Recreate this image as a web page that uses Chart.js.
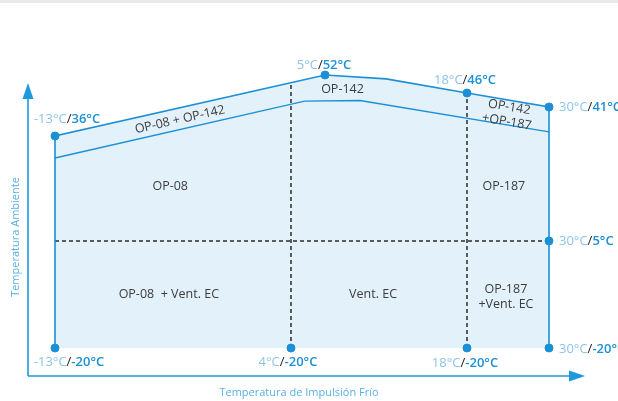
<!DOCTYPE html>
<html>
<head>
<meta charset="utf-8">
<script src="https://cdn.jsdelivr.net/npm/chart.js@4"></script>
<style>
  body { margin: 0; background: #fff; }
  #wrap { position: relative; width: 618px; height: 401px; }
  #strip { position: absolute; left: 0; top: 0; width: 618px; height: 3px; background: #e9eaee; }
</style>
</head>
<body>
<div id="wrap"><canvas id="envelope"></canvas><div id="strip"></div></div>
<script>
// operating envelope, °C (x = impulsión frío, y = ambiente)
const upperX = [-13, 5, 10.6, 18, 30];
const upperY = [36, 52, 50.7, 46, 41];
const lowerX = [-13, 4.4, 8.2, 30];
const lowerY = [29.5, 43.1, 43.3, 36.7];
const splitX = [4, 18];
const splitXTop = [49.4, 46];
const splitY = 5;
const pointX = [-13, 5, 18, 30, 30, 30, -13, 4, 18];
const pointY = [36, 52, 46, 41, 5, -20, -20, -20, -20];
const regionText = [["OP-08 + OP-142"], ["OP-142"], ["OP-142", "+OP-187"], ["OP-08"], ["OP-187"],
  ["OP-08  + Vent. EC"], ["Vent. EC"], ["OP-187", "+Vent. EC"]];
const regionX = [-4.0, 6.6, 24.0, -4.7, 23.4, -4.8, 9.4, 23.7];
const regionY = [38.8, 47.3, 39.7, 21.2, 21.2, -7.6, -7.6, -8.0];

const BLUE = "#1b90d6";
const xMin = -13, xMax = 30, yMin = -20, yMax = 52;

// the drawing is not to scale: each axis is linear between these breaks
const axisBreaks = {
  x: [[-13, 0], [4, 0.4777], [5, 0.5466], [18, 0.834], [30, 1]],
  y: [[-20, 0], [5, 0.392], [36, 0.7766], [41, 0.8828], [46, 0.934], [52, 1]],
};

class BrokenScale extends Chart.LinearScale {
  getPixelForValue(value) {
    const k = axisBreaks[this.axis];
    let f = value <= k[0][0] ? k[0][1] : k[k.length - 1][1];
    for (let i = 1; i < k.length; i++) {
      if (value >= k[i - 1][0] && value <= k[i][0]) {
        f = k[i - 1][1] + (k[i][1] - k[i - 1][1]) * (value - k[i - 1][0]) / (k[i][0] - k[i - 1][0]);
        break;
      }
    }
    return this.getPixelForDecimal(f);
  }
  getValueForPixel(pixel) {
    const k = axisBreaks[this.axis];
    const f = this.getDecimalForPixel(pixel);
    for (let i = 1; i < k.length; i++) {
      if (f <= k[i][1]) return k[i - 1][0] + (k[i][0] - k[i - 1][0]) * (f - k[i - 1][1]) / (k[i][1] - k[i - 1][1]);
    }
    return k[k.length - 1][0];
  }
}
BrokenScale.id = "broken";
BrokenScale.defaults = Chart.LinearScale.defaults;
Chart.register(BrokenScale);

const pts = (xs, ys) => xs.map((x, i) => ({ x, y: ys[i] }));

const outline = [{ x: xMin, y: yMin }, ...pts(upperX, upperY), { x: xMax, y: yMin }, { x: xMin, y: yMin }];
const dashed = [
  ...splitX.map((x, i) => [{ x, y: yMin }, { x, y: splitXTop[i] }]),
  [{ x: xMin, y: splitY }, { x: xMax, y: splitY }],
];

// labels next to the corner points
const labelPlace = ["above", "above", "above", "right", "right", "right", "below", "below", "below"];
const labelShift = [12, -1, -2, 0, 0, 0, 14, -3, -2];
const labelLift = [-17, -10, -13, 0, 0, 1, 14, 14, 15];
const regionAngle = [-12.7, 0, 9.5, 0, 0, 0, 0, 0];

const fmt = (v) => (v < 0 ? "-" : "") + Math.abs(v) + "°C";

const decor = {
  id: "decor",
  afterDraw(chart) {
    const { ctx, chartArea: a, scales } = chart;
    const sx = scales.x, sy = scales.y;
    ctx.save();
    // axes with arrows
    const ax = a.left - 27, ay = a.bottom + 28;
    ctx.strokeStyle = "#1d9ade";
    ctx.fillStyle = "#1d9ade";
    ctx.lineWidth = 1.6;
    ctx.beginPath();
    ctx.moveTo(ax, ay);
    ctx.lineTo(ax, 98);
    ctx.moveTo(ax, ay);
    ctx.lineTo(570, ay);
    ctx.stroke();
    ctx.beginPath();
    ctx.moveTo(ax - 5.5, 99); ctx.lineTo(ax + 5.5, 99); ctx.lineTo(ax, 83); ctx.closePath();
    ctx.moveTo(569, ay - 5.5); ctx.lineTo(569, ay + 5.5); ctx.lineTo(585, ay); ctx.closePath();
    ctx.fill();

    // axis titles
    ctx.fillStyle = "#5aafe3";
    ctx.font = "11px 'Open Sans'";
    ctx.textAlign = "center";
    ctx.textBaseline = "middle";
    ctx.fillText("Temperatura de Impulsión Frío", 299, 393);
    ctx.save();
    ctx.translate(16, 237);
    ctx.rotate(-Math.PI / 2);
    ctx.fillText("Temperatura Ambiente", 0, 0);
    ctx.restore();

    // region names
    ctx.fillStyle = "#3c3c3c";
    ctx.font = "12.5px 'Open Sans'";
    regionText.forEach((lines, i) => {
      ctx.save();
      ctx.translate(sx.getPixelForValue(regionX[i]), sy.getPixelForValue(regionY[i]));
      ctx.rotate(regionAngle[i] * Math.PI / 180);
      lines.forEach((t, j) => ctx.fillText(t, 0, (j - (lines.length - 1) / 2) * 15));
      ctx.restore();
    });

    // point labels: light x part, dark slash, blue y part
    ctx.textAlign = "left";
    pointX.forEach((x, i) => {
      const parts = [
        [fmt(x), "#8cc4e9", "400"],
        ["/", "#222", "400"],
        [fmt(pointY[i]), BLUE, "600"],
      ];
      let w = 0;
      parts.forEach((p) => { ctx.font = p[2] + " 13px 'Open Sans'"; p.push(ctx.measureText(p[0]).width); w += p[3]; });
      const px = sx.getPixelForValue(x), py = sy.getPixelForValue(pointY[i]);
      let lx = labelPlace[i] === "right" ? px + 10 : px - w / 2 + labelShift[i];
      const ly = py + labelLift[i];
      parts.forEach((p) => {
        ctx.font = p[2] + " 13px 'Open Sans'";
        ctx.fillStyle = p[1];
        ctx.fillText(p[0], lx, ly);
        lx += p[3];
      });
    });
    ctx.restore();
  },
};

new Chart(document.getElementById("envelope"), {
  type: "line",
  data: {
    datasets: [
      {
        data: pts(pointX, pointY),
        showLine: false,
        pointRadius: 4,
        pointBackgroundColor: BLUE,
        pointBorderColor: BLUE,
        order: 1,
      },
      {
        data: outline,
        borderColor: BLUE,
        borderWidth: 1.6,
        pointRadius: 0,
        fill: false,
        order: 2,
      },
      {
        data: pts(lowerX, lowerY),
        borderColor: BLUE,
        borderWidth: 1.4,
        pointRadius: 0,
        fill: false,
        order: 3,
      },
      ...dashed.map((d) => ({
        data: d,
        borderColor: "#2b2b2b",
        borderWidth: 1.5,
        borderDash: [4, 3],
        pointRadius: 0,
        fill: false,
        order: 4,
      })),
      {
        data: pts(upperX, upperY),
        borderWidth: 0,
        pointRadius: 0,
        backgroundColor: "#e3f1fb",
        fill: { value: yMin },
        order: 6,
      },
    ],
  },
  options: {
    responsive: true,
    maintainAspectRatio: false,
    animation: false,
    parsing: false,
    layout: { padding: { left: 55, right: 69, top: 75, bottom: 53 } },
    datasets: { line: { clip: false, tension: 0 } },
    scales: {
      x: { type: "broken", min: xMin, max: xMax, display: false },
      y: { type: "broken", min: yMin, max: yMax, display: false },
    },
    plugins: { legend: { display: false }, tooltip: { enabled: false } },
  },
  plugins: [decor],
});
</script>
</body>
</html>
